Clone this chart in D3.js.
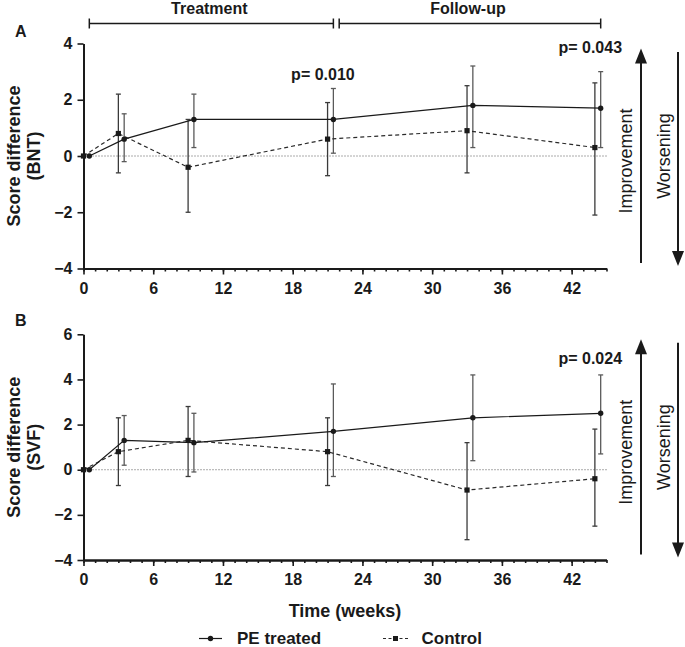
<!DOCTYPE html>
<html>
<head>
<meta charset="utf-8">
<script src="https://cdn.jsdelivr.net/npm/d3@7"></script>
<style>
  html, body { margin: 0; padding: 0; background: #fff; }
  svg { display: block; font-family: "Liberation Sans", Arial, sans-serif; }
</style>
</head>
<body>
<svg id="chart" width="685" height="647"></svg>
<script>
// ---------------- data ----------------
const weeksPE   = [0.5, 3.5, 9.5, 21.5, 33.5, 44.5];
const weeksCtrl = [0, 3, 9, 21, 33, 44];

// Panel A (BNT)
const bntPE      = [0, 0.6, 1.3, 1.3, 1.8, 1.7];
const bntPELow   = [0, -0.2, 0.3, 0.1, 0.3, 0.3];
const bntPEHigh  = [0, 1.5, 2.2, 2.4, 3.2, 3.0];
const bntCtrl    = [0, 0.8, -0.4, 0.6, 0.9, 0.3];
const bntCtrlLow = [0, -0.6, -2.0, -0.7, -0.6, -2.1];
const bntCtrlHigh= [0, 2.2, 1.3, 1.9, 2.5, 2.6];

// Panel B (SVF)
const svfPE      = [0, 1.3, 1.2, 1.7, 2.3, 2.5];
const svfPELow   = [0, 0.2, -0.1, -0.3, 0.4, 0.7];
const svfPEHigh  = [0, 2.4, 2.5, 3.8, 4.2, 4.2];
const svfCtrl    = [0, 0.8, 1.3, 0.8, -0.9, -0.4];
const svfCtrlLow = [0, -0.7, -0.3, -0.7, -3.1, -2.5];
const svfCtrlHigh= [0, 2.3, 2.8, 2.3, 1.2, 1.8];

const xTicks  = [0, 6, 12, 18, 24, 30, 36, 42];
const yTicksA = [-4, -2, 0, 2, 4];
const yTicksB = [-4, -2, 0, 2, 4, 6];

const phaseLabels = ["Treatment", "Follow-up"];
const phaseStart  = [0.5, 22];
const phaseEnd    = [21.5, 44.5];

const pTextA = ["p= 0.010", "p= 0.043"];
const pWeekA = [20.6, 43.6];
const pValA  = [2.70, 3.66];
const pTextB = ["p= 0.024"];
const pWeekB = [43.6];
const pValB  = [4.69];

const seriesNames = ["PE treated", "Control"];

// ---------------- drawing ----------------
const svg = d3.select("#chart");
const x = d3.scaleLinear().domain([0, 45]).range([83.5, 606.5]);

const ink = "#1a1a1a";

// header brackets
const hdr = svg.append("g");
phaseLabels.forEach((lab, i) => {
  const x0 = x(phaseStart[i]), x1 = x(phaseEnd[i]), yb = 23.5;
  hdr.append("line").attr("x1", x0).attr("x2", x1).attr("y1", yb).attr("y2", yb)
    .attr("stroke", ink).attr("stroke-width", 1.5);
  [x0, x1].forEach(xx => hdr.append("line").attr("x1", xx).attr("x2", xx)
    .attr("y1", yb - 5).attr("y2", yb + 5).attr("stroke", ink).attr("stroke-width", 1.5));
  hdr.append("text").attr("x", (x0 + x1) / 2 - 2).attr("y", 13.5)
    .attr("text-anchor", "middle").attr("font-weight", "bold").attr("font-size", 16)
    .attr("fill", ink).text(lab);
});

function panel(cfg) {
  const y = d3.scaleLinear().domain(cfg.domain).range(cfg.range);
  const g = svg.append("g");

  // panel letter
  g.append("text").attr("x", 15).attr("y", cfg.letterY).attr("font-weight", "bold")
    .attr("font-size", 16).attr("fill", ink).text(cfg.letter);

  // y label
  const yMid = (cfg.range[0] + cfg.range[1]) / 2;
  cfg.ylabel.forEach((t, i) => {
    g.append("text")
      .attr("transform", `translate(${20 + i * 20},${yMid}) rotate(-90)`)
      .attr("text-anchor", "middle").attr("font-weight", "bold").attr("font-size", 18)
      .attr("fill", ink).text(t);
  });

  // zero line
  g.append("line").attr("x1", x(0)).attr("x2", x(45)).attr("y1", y(0)).attr("y2", y(0))
    .attr("stroke", "#555").attr("stroke-width", 1).attr("stroke-dasharray", "1,2");

  // axes
  const yAxis = g.append("g").attr("transform", `translate(${x(0)},0)`)
    .call(d3.axisLeft(y).tickValues(cfg.yTicks).tickSize(6).tickPadding(5).tickSizeOuter(0));
  yAxis.selectAll("text").attr("font-size", 16).attr("font-weight", "bold").attr("fill", ink)
    .attr("font-family", "Liberation Sans, Arial, sans-serif");

  const xMinor = g.append("g").attr("transform", `translate(0,${y(cfg.domain[0])})`)
    .call(d3.axisBottom(x).tickValues(d3.range(0, 46)).tickSize(3).tickFormat("").tickSizeOuter(0));
  const xAxis = g.append("g").attr("transform", `translate(0,${y(cfg.domain[0])})`)
    .call(d3.axisBottom(x).tickValues(xTicks).tickSize(6).tickSizeOuter(0).tickFormat(d3.format("d")));
  xAxis.selectAll("text").attr("font-size", 16).attr("font-weight", "bold").attr("fill", ink)
    .attr("y", 25).attr("dy", 0).attr("font-family", "Liberation Sans, Arial, sans-serif");
  [yAxis, xAxis, xMinor].forEach(a => {
    a.select(".domain").attr("stroke", ink).attr("stroke-width", 2);
    a.selectAll(".tick line").attr("stroke", ink).attr("stroke-width", 1.6);
  });

  // error bars
  function errBars(weeks, lo, hi, color) {
    weeks.forEach((w, i) => {
      if (lo[i] === hi[i]) return;
      const xx = x(w);
      g.append("line").attr("x1", xx).attr("x2", xx).attr("y1", y(lo[i])).attr("y2", y(hi[i]))
        .attr("stroke", color).attr("stroke-width", 1.3);
      [lo[i], hi[i]].forEach(v => g.append("line").attr("x1", xx - 2.5).attr("x2", xx + 2.5)
        .attr("y1", y(v)).attr("y2", y(v)).attr("stroke", color).attr("stroke-width", 1.3));
    });
  }
  errBars(weeksCtrl, cfg.ctrlLow, cfg.ctrlHigh, "#3a3a3a");
  errBars(weeksPE, cfg.peLow, cfg.peHigh, "#5a5a5a");

  const line = d3.line().x(d => x(d[0])).y(d => y(d[1]));
  const ctrlPts = weeksCtrl.map((w, i) => [w, cfg.ctrl[i]]);
  const pePts = weeksPE.map((w, i) => [w, cfg.pe[i]]);

  g.append("path").datum(ctrlPts).attr("d", line).attr("fill", "none")
    .attr("stroke", "#2a2a2a").attr("stroke-width", 1.2).attr("stroke-dasharray", "4,3");
  g.append("path").datum(pePts).attr("d", line).attr("fill", "none")
    .attr("stroke", ink).attr("stroke-width", 1.2);

  g.selectAll(".sq").data(ctrlPts).enter().append("rect")
    .attr("x", d => x(d[0]) - 2.6).attr("y", d => y(d[1]) - 2.6)
    .attr("width", 5.2).attr("height", 5.2).attr("fill", ink);
  g.selectAll(".dot").data(pePts).enter().append("circle")
    .attr("cx", d => x(d[0])).attr("cy", d => y(d[1])).attr("r", 2.7).attr("fill", ink);

  // p-values
  cfg.pText.forEach((t, i) => {
    g.append("text").attr("x", x(cfg.pWeek[i])).attr("y", y(cfg.pVal[i]))
      .attr("text-anchor", "middle").attr("font-weight", "bold").attr("font-size", 16)
      .attr("fill", ink).text(t);
  });

  // direction arrows
  const top = cfg.range[1], bot = cfg.range[0];
  const ax1 = x(45) + 34.5, ax2 = x(45) + 71.5;
  g.append("line").attr("x1", ax1).attr("x2", ax1).attr("y1", top + 18).attr("y2", bot - 5.5)
    .attr("stroke", ink).attr("stroke-width", 2);
  g.append("path").attr("d", `M${ax1},${top + 5}L${ax1 - 6},${top + 20}L${ax1 + 6},${top + 20}Z`).attr("fill", ink);
  g.append("line").attr("x1", ax2).attr("x2", ax2).attr("y1", top + 8.5).attr("y2", bot - 15)
    .attr("stroke", ink).attr("stroke-width", 2);
  g.append("path").attr("d", `M${ax2},${bot - 2.5}L${ax2 - 6},${bot - 17.5}L${ax2 + 6},${bot - 17.5}Z`).attr("fill", ink);

  const mid = (top + bot) / 2;
  g.append("text").attr("transform", `translate(${ax1 - 9},${mid + 5}) rotate(-90)`)
    .attr("text-anchor", "middle").attr("font-size", 18).attr("fill", ink).text("Improvement");
  g.append("text").attr("transform", `translate(${ax2 - 8.5},${mid}) rotate(-90)`)
    .attr("text-anchor", "middle").attr("font-size", 18).attr("fill", ink).text("Worsening");
}

panel({
  letter: "A", letterY: 37, domain: [-4, 4], range: [268.5, 43.5], yTicks: yTicksA,
  ylabel: ["Score difference", "(BNT)"],
  pe: bntPE, peLow: bntPELow, peHigh: bntPEHigh,
  ctrl: bntCtrl, ctrlLow: bntCtrlLow, ctrlHigh: bntCtrlHigh,
  pText: pTextA, pWeek: pWeekA, pVal: pValA
});
panel({
  letter: "B", letterY: 326, domain: [-4, 6], range: [560, 334.3], yTicks: yTicksB,
  ylabel: ["Score difference", "(SVF)"],
  pe: svfPE, peLow: svfPELow, peHigh: svfPEHigh,
  ctrl: svfCtrl, ctrlLow: svfCtrlLow, ctrlHigh: svfCtrlHigh,
  pText: pTextB, pWeek: pWeekB, pVal: pValB
});

// x axis title
svg.append("text").attr("x", 345).attr("y", 616.5).attr("text-anchor", "middle")
  .attr("font-weight", "bold").attr("font-size", 18).attr("fill", ink).text("Time (weeks)");

// legend
const lg = svg.append("g");
lg.append("line").attr("x1", 199).attr("x2", 222).attr("y1", 638.5).attr("y2", 638.5)
  .attr("stroke", ink).attr("stroke-width", 1.2);
lg.append("circle").attr("cx", 210.5).attr("cy", 638.5).attr("r", 2.7).attr("fill", ink);
lg.append("text").attr("x", 237).attr("y", 643.5).attr("font-weight", "bold").attr("font-size", 17)
  .attr("fill", ink).text(seriesNames[0]);
lg.append("line").attr("x1", 383).attr("x2", 408.5).attr("y1", 638.5).attr("y2", 638.5)
  .attr("stroke", "#2a2a2a").attr("stroke-width", 1.2).attr("stroke-dasharray", "3,2.5");
lg.append("rect").attr("x", 393).attr("y", 636).attr("width", 5).attr("height", 5).attr("fill", ink);
lg.append("text").attr("x", 421.5).attr("y", 643.5).attr("font-weight", "bold").attr("font-size", 17)
  .attr("fill", ink).text(seriesNames[1]);
</script>
</body>
</html>
